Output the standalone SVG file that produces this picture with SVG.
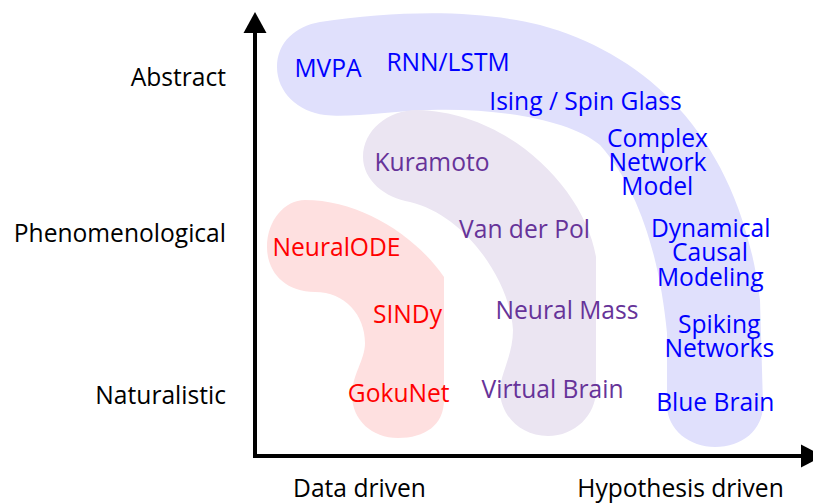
<svg xmlns="http://www.w3.org/2000/svg" width="813" height="503" viewBox="0 0 813 503">
<style>
text{font-family:"Open Sans","Noto Sans","Liberation Sans",sans-serif;font-size:24.6px;text-anchor:middle}
.ax{fill:#000;text-anchor:end}
.axb{fill:#000}
.b{fill:#0000ff}
.p{fill:#663399}
.r{fill:#ff0000}
.line{stroke:#000;stroke-width:4;fill:none}
</style>
<rect width="813" height="503" fill="#fff"/>
<g id="blob-blue"><path fill="#e0e0fc" d="M320,22 C400,10 480,10 540,25 C650,55 740,140 760,300 L763,405 C763,430 742,447 715,447 C690,447 667,430 667,405 L667,333 C660,260 640,190 600,145 C570,120 500,108 430,110 C390,111 350,118 325,115 C298,112 277,92 277,67 C277,42 296,26 320,22 Z"/></g>
<g id="blob-purple"><path fill="#ebe5f2" d="M417,110 C510,112 585,190 596,257 L596,390 C596,415 575,436 548,436 C520,436 500,415 500,390 C500,375 513,355 513,330 C510,280 465,215 410,202 C385,198 363,180 363,157 C363,130 388,110 417,110 Z"/></g>
<g id="blob-red"><path fill="#fee0e0" d="M305,200 C360,200 415,235 444,277 L444,400 C444,425 425,438 398,438 C372,438 352,420 352,395 C352,375 365,360 365,343 C365,315 345,292 315,292 C285,292 267,272 267,247 C267,220 285,200 305,200 Z"/></g>
<g id="connectors">
<line class="line" x1="255" y1="30" x2="255" y2="458"/>
<polygon points="255,12 243.5,33 266.5,33" fill="#000"/>
<line class="line" x1="253" y1="456" x2="803" y2="456"/>
<polygon points="801,444.5 801,467.5 823,456" fill="#000"/>
</g>
<g id="axis-labels">
<text class="ax" x="226" y="86">Abstract</text>
<text class="ax" x="226" y="242">Phenomenological</text>
<text class="ax" x="226" y="404">Naturalistic</text>
<text class="axb" x="359.5" y="497">Data driven</text>
<text class="axb" x="680.5" y="497">Hypothesis driven</text>
</g>
<g id="blue-labels">
<text class="b" x="328" y="77">MVPA</text>
<text class="b" x="448" y="71">RNN/LSTM</text>
<text class="b" x="585.5" y="109.5">Ising / Spin Glass</text>
<text class="b" x="657.5" y="146.5">Complex</text>
<text class="b" x="657.5" y="170.5">Network</text>
<text class="b" x="657.3" y="195">Model</text>
<text class="b" x="710.7" y="236.7">Dynamical</text>
<text class="b" x="710" y="261">Causal</text>
<text class="b" x="710.3" y="285.7">Modeling</text>
<text class="b" x="719.2" y="333.3">Spiking</text>
<text class="b" x="719.3" y="357.3">Networks</text>
<text class="b" x="715.3" y="410.7">Blue Brain</text>
</g>
<g id="purple-labels">
<text class="p" x="432" y="170.7">Kuramoto</text>
<text class="p" x="524.5" y="238.3">Van der Pol</text>
<text class="p" x="567" y="319.3">Neural Mass</text>
<text class="p" x="552.5" y="398.3">Virtual Brain</text>
</g>
<g id="red-labels">
<text class="r" x="336.5" y="256">NeuralODE</text>
<text class="r" x="407.5" y="323.3">SINDy</text>
<text class="r" x="398.7" y="401.7">GokuNet</text>
</g>
</svg>
